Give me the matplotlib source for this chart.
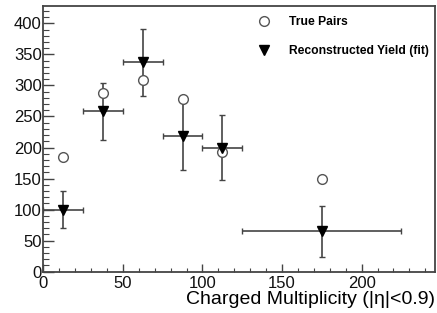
import matplotlib
matplotlib.use('agg')
import numpy as np
import matplotlib.pyplot as plt
from matplotlib.ticker import MultipleLocator

# bins of charged multiplicity
bin_centres = [12.5, 37.5, 62.5, 87.5, 112.5, 175.0]
bin_halfwidth = [12.5, 12.5, 12.5, 12.5, 12.5, 50.0]

true_pairs = [185, 288, 309, 278, 193, 150]
reco_yield = [100, 258, 337, 218, 200, 65]
reco_err = [30, 46, 54, 55, 52, 41]

plt.rcParams['font.family'] = ['Liberation Sans', 'DejaVu Sans']

fig = plt.figure(figsize=(4.37, 3.13), dpi=100)
ax = fig.add_axes([0.099, 0.132, 0.896, 0.849])

ax.errorbar(bin_centres, reco_yield, xerr=bin_halfwidth, yerr=reco_err, fmt='none',
            ecolor='#444444', elinewidth=1.2, capsize=2, capthick=1.0, zorder=2)
ax.plot(bin_centres, true_pairs, 'o', mfc='white', mec='#555555', mew=1.0, ms=7,
        ls='none', label='True Pairs', zorder=3)
ax.plot(bin_centres, reco_yield, 'v', color='black', ms=7, ls='none',
        label='Reconstructed Yield (fit)', zorder=4)

ax.set_xlim(0, 246)
ax.set_ylim(0, 428)

ax.xaxis.set_major_locator(MultipleLocator(50))
ax.xaxis.set_minor_locator(MultipleLocator(10))
ax.yaxis.set_major_locator(MultipleLocator(50))
ax.yaxis.set_minor_locator(MultipleLocator(10))

ax.tick_params(axis='both', which='both', direction='in', colors='#444444',
               labelcolor='#111111', labelsize=12)
ax.tick_params(axis='y', which='major', length=8, width=1.0, pad=1)
ax.tick_params(axis='y', which='minor', length=4, width=0.8)
ax.tick_params(axis='x', which='major', length=6, width=1.0, pad=3)
ax.tick_params(axis='x', which='minor', length=3, width=0.8)

for sp in ax.spines.values():
    sp.set_color('#444444')
    sp.set_linewidth(1.3)

ax.set_xlabel('Charged Multiplicity (|η|<0.9)', fontsize=14, loc='right', labelpad=0)

leg = ax.legend(loc='upper left', bbox_to_anchor=(0.52, 0.98), frameon=False,
                prop={'size': 8.7, 'weight': 'bold'}, handletextpad=1.1, labelspacing=1.4,
                borderaxespad=0)

plt.savefig('out.png', dpi=100)
